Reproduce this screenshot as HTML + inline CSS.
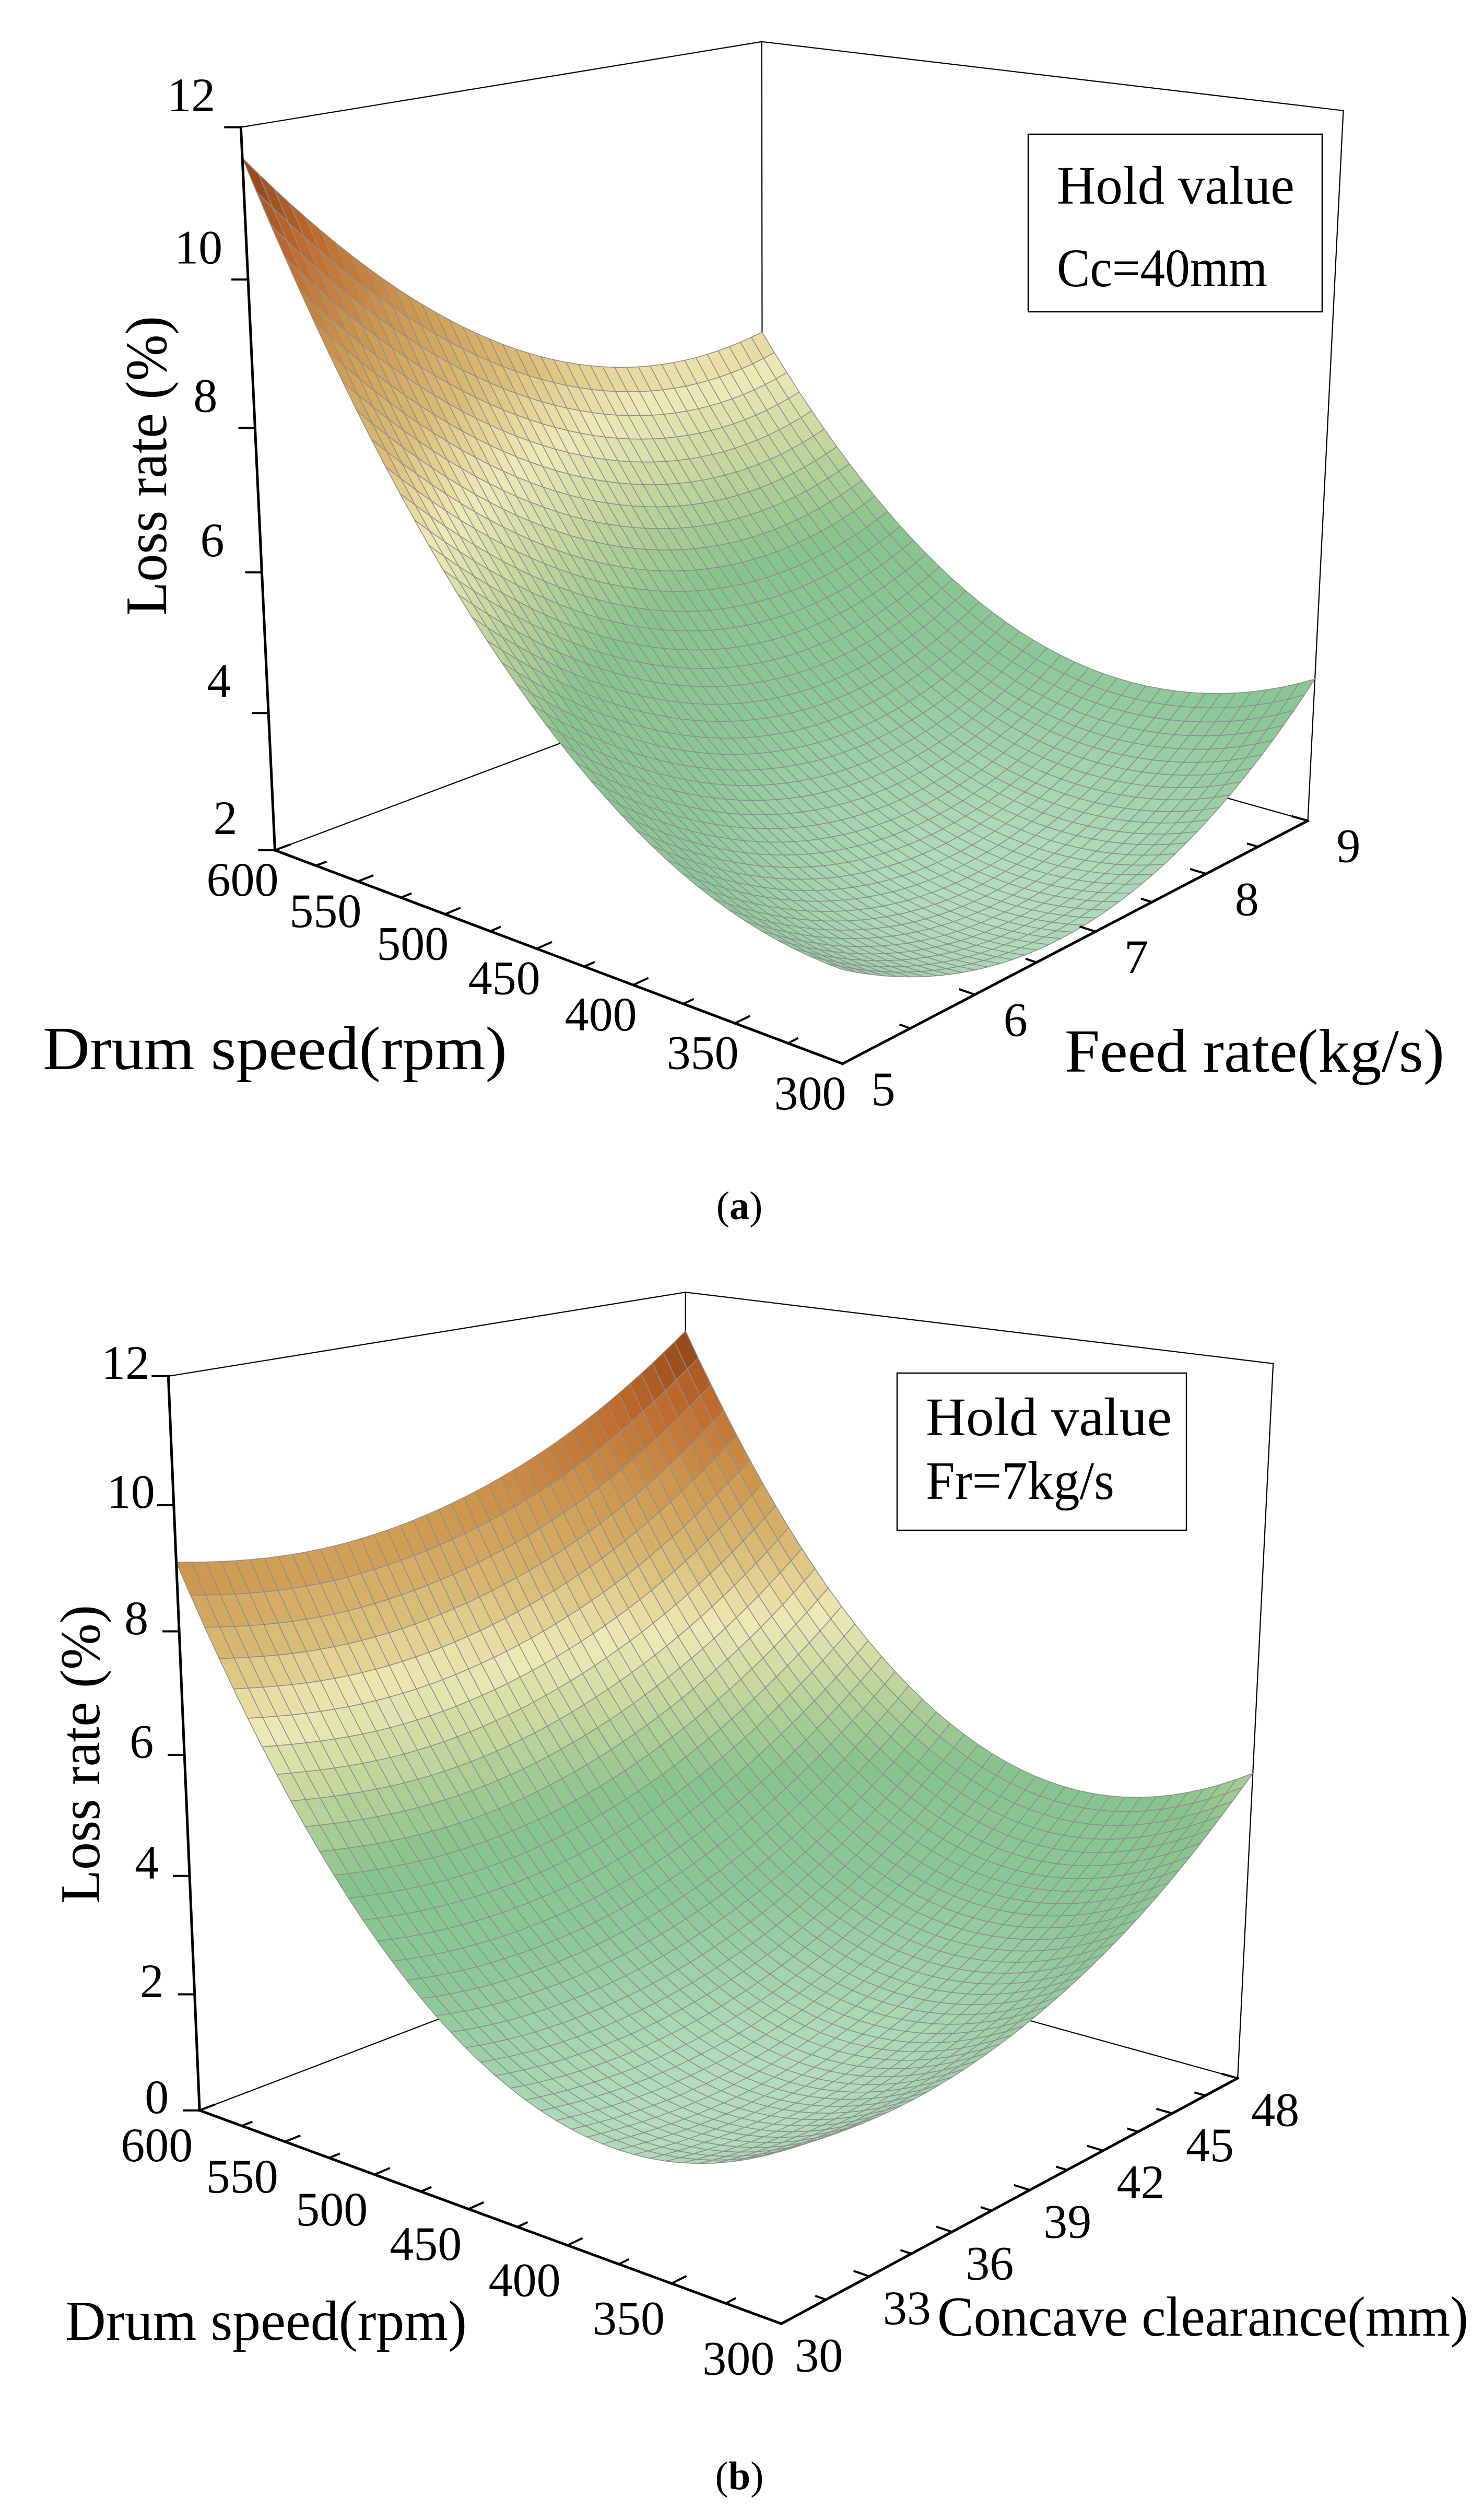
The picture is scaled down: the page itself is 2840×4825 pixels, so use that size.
<!DOCTYPE html>
<html>
<head>
<meta charset="utf-8">
<style>
  html,body{margin:0;padding:0;background:#fff;}
  svg{display:block;font-family:"Liberation Serif","DejaVu Serif",serif;}
  svg text{font-family:"Liberation Serif","DejaVu Serif",serif;fill:#000;}
</style>
</head>
<body>
<svg id="fig" xmlns="http://www.w3.org/2000/svg" width="2840" height="4825" viewBox="0 0 2840 4825" font-family="Liberation Serif, serif">
  <rect x="0" y="0" width="2840" height="4825" fill="#fff"/>
</svg>
<script>
// ---------- Chart (a) data ----------
const drumTicksA = [300, 350, 400, 450, 500, 550, 600];
const feedTicks = [5, 6, 7, 8, 9];
const zTicksA = [2, 4, 6, 8, 10, 12];
// loss rate grid: rows = drum speed (300..600), cols = feed rate (5..9)
const lossA = [
  [3.20, 2.33, 2.19, 2.78, 4.10],
  [3.43, 2.35, 2.00, 2.38, 3.50],
  [4.13, 2.84, 2.29, 2.46, 3.37],
  [5.30, 3.80, 3.04, 3.00, 3.70],
  [6.93, 5.23, 4.25, 4.01, 4.50],
  [9.03, 7.12, 5.94, 5.48, 5.77],
  [11.60, 9.49, 8.09, 7.43, 7.50]
];
// ---------- Chart (b) data ----------
const drumTicksB = [300, 350, 400, 450, 500, 550, 600];
const clearTicks = [30, 33, 36, 39, 42, 45, 48];
const zTicksB = [0, 2, 4, 6, 8, 10, 12];
// loss rate grid: rows = drum speed (300..600), cols = concave clearance (30..48)
const lossB = [
  [2.60, 2.43, 2.50, 2.83, 3.40, 4.23, 5.30],
  [1.88, 1.69, 1.75, 2.06, 2.62, 3.43, 4.50],
  [1.88, 1.68, 1.72, 2.02, 2.57, 3.36, 4.41],
  [2.60, 2.38, 2.42, 2.70, 3.23, 4.02, 5.05],
  [4.04, 3.81, 3.83, 4.10, 4.62, 5.39, 6.41],
  [6.21, 5.97, 5.97, 6.23, 6.73, 7.48, 8.50],
  [9.10, 8.84, 8.83, 9.08, 9.57, 10.31, 11.30]
];

const NS = "http://www.w3.org/2000/svg";
const svg = document.getElementById('fig');
const FONT = '"Liberation Serif", "DejaVu Serif", serif';

function mk(tag, attrs, parent) {
  const e = document.createElementNS(NS, tag);
  for (const k in attrs) e.setAttribute(k, attrs[k]);
  (parent || svg).appendChild(e);
  return e;
}

function solve(A, b) {
  const n = b.length;
  for (let i = 0; i < n; i++) {
    let p = i;
    for (let r = i + 1; r < n; r++) if (Math.abs(A[r][i]) > Math.abs(A[p][i])) p = r;
    [A[i], A[p]] = [A[p], A[i]]; [b[i], b[p]] = [b[p], b[i]];
    for (let r = i + 1; r < n; r++) {
      const f = A[r][i] / A[i][i];
      for (let c = i; c < n; c++) A[r][c] -= f * A[i][c];
      b[r] -= f * b[i];
    }
  }
  const x = new Array(n).fill(0);
  for (let i = n - 1; i >= 0; i--) {
    let s = b[i];
    for (let c = i + 1; c < n; c++) s -= A[i][c] * x[c];
    x[i] = s / A[i][i];
  }
  return x;
}

function makeProjector(pts) {
  const S = 1000;
  const rows = [], rhs = [];
  pts.forEach(([X, Y, Z, px, py]) => {
    const x = px / S, y = py / S;
    rows.push([X, Y, Z, 1, 0, 0, 0, 0, -x * X, -x * Y, -x * Z]); rhs.push(x);
    rows.push([0, 0, 0, 0, X, Y, Z, 1, -y * X, -y * Y, -y * Z]); rhs.push(y);
  });
  const N = 11, AtA = [], Atb = [];
  for (let i = 0; i < N; i++) {
    AtA.push(new Array(N).fill(0)); Atb.push(0);
    for (let r = 0; r < rows.length; r++) {
      Atb[i] += rows[r][i] * rhs[r];
      for (let j = 0; j < N; j++) AtA[i][j] += rows[r][i] * rows[r][j];
    }
  }
  const p = solve(AtA, Atb);
  return (X, Y, Z) => {
    const d = p[8] * X + p[9] * Y + p[10] * Z + 1;
    return [S * (p[0] * X + p[1] * Y + p[2] * Z + p[3]) / d, S * (p[4] * X + p[5] * Y + p[6] * Z + p[7]) / d, d];
  };
}

function lagr(nodes, x, i) {
  let v = 1;
  for (let k = 0; k < nodes.length; k++) if (k !== i) v *= (x - nodes[k]) / (nodes[i] - nodes[k]);
  return v;
}
function interp(grid, tn, sn, t, s) {
  let z = 0;
  for (let i = 0; i < tn.length; i++) {
    const li = lagr(tn, t, i);
    for (let j = 0; j < sn.length; j++) z += li * lagr(sn, s, j) * grid[i][j];
  }
  return z;
}

const stops = [
  [0.00, [178, 220, 188]], [0.15, [140, 200, 152]], [0.30, [135, 196, 140]],
  [0.42, [196, 214, 156]], [0.52, [238, 234, 184]], [0.62, [220, 190, 120]],
  [0.75, [204, 150, 76]], [0.88, [192, 104, 42]], [1.00, [138, 64, 24]]
];
function cmap(v) {
  v = Math.max(0, Math.min(1, v));
  for (let i = 1; i < stops.length; i++) {
    if (v <= stops[i][0]) {
      const a = stops[i - 1], b = stops[i], f = (v - a[0]) / (b[0] - a[0]);
      const c = a[1].map((x, k) => Math.round(x + (b[1][k] - x) * f));
      return `rgb(${c[0]},${c[1]},${c[2]})`;
    }
  }
  return 'rgb(138,64,24)';
}

function drawChart(cfg) {
  const g = mk('g', {});
  
  
  const P = makeProjector(cfg.calib);
  const tMin = cfg.tTicks[0], tMax = cfg.tTicks[cfg.tTicks.length - 1];
  const sMin = cfg.sTicks[0], sMax = cfg.sTicks[cfg.sTicks.length - 1];
  const zMin = cfg.zTicks[0], zMax = cfg.zTicks[cfg.zTicks.length - 1];
  const T = v => (v - tMin) / (tMax - tMin);
  const Sx = v => (v - sMin) / (sMax - sMin);
  const W = v => (v - zMin) / (zMax - zMin);
  const pt = (t, s, w) => P(t, s, w);
  const line = (a, b, sw, name) => {
    const l = mk('line', { x1: a[0].toFixed(1), y1: a[1].toFixed(1), x2: b[0].toFixed(1), y2: b[1].toFixed(1), stroke: '#000', 'stroke-width': sw, 'stroke-linecap': 'square' }, g);
    
    
    return l;
  };
  line(pt(1, 0, 0), pt(1, 1, 0), 2.2, 'floor-left-back-edge');
  line(pt(0, 1, 0), pt(1, 1, 0), 2.2, 'floor-right-back-edge');
  line(pt(1, 1, 0), pt(1, 1, 1), 2.2, 'back-vertical-edge');
  line(pt(1, 0, 1), pt(1, 1, 1), 2.2, 'top-left-edge');
  line(pt(0, 1, 1), pt(1, 1, 1), 2.2, 'top-right-edge');
  line(pt(0, 1, 0), pt(0, 1, 1), 2.2, 'right-vertical-edge');

  const zs = cfg.grid.flat();
  const gmin = Math.min(...zs), gmax = Math.max(...zs);
  const tn = cfg.tTicks.map(T), sn = cfg.sTicks.map(Sx);
  const N = 40;
  const Z = [];
  for (let i = 0; i <= N; i++) { Z.push([]); for (let j = 0; j <= N; j++) Z[i].push(interp(cfg.grid, tn, sn, i / N, j / N)); }
  const back = pt(1, 1, 0)[2], front = pt(0, 0, 0)[2];
  const sgn = back > front ? 1 : -1;
  const cells = [];
  for (let i = 0; i < N; i++) for (let j = 0; j < N; j++) {
    const corners = [[i, j], [i + 1, j], [i + 1, j + 1], [i, j + 1]].map(([a, b]) => pt(a / N, b / N, W(Z[a][b])));
    const zAvg = (Z[i][j] + Z[i + 1][j] + Z[i + 1][j + 1] + Z[i][j + 1]) / 4;
    const depth = sgn * corners.reduce((s, c) => s + c[2], 0) / 4;
    cells.push({ corners, zAvg, depth });
  }
  cells.sort((a, b) => b.depth - a.depth);
  const sg = mk('g', { stroke: '#8e8e8e', 'stroke-width': '1.6', 'stroke-linejoin': 'round' }, g);
  
  
  cells.forEach(c => {
    const poly = mk('polygon', { points: c.corners.map(p => p[0].toFixed(1) + ',' + p[1].toFixed(1)).join(' '), fill: cmap((c.zAvg - gmin) / (gmax - gmin)) }, sg);
    
    
  });

  line(pt(1, 0, 0), pt(0, 0, 0), 5, 'drum-speed-axis');
  line(pt(0, 0, 0), pt(0, 1, 0), 5, cfg.sAxisName);
  line(pt(1, 0, 0), pt(1, 0, 1), 5, 'loss-rate-axis');

  const unit = (a, b, L) => { const dx = b[0] - a[0], dy = b[1] - a[1], d = Math.hypot(dx, dy); return [a[0] + dx / d * L, a[1] + dy / d * L]; };
  const tStep = (cfg.tTicks[1] - cfg.tTicks[0]) / 2;
  for (let v = tMin; v <= tMax + 1e-9; v += tStep) {
    const a = pt(T(v), 0, 0), major = Math.abs(((v - tMin) / (2 * tStep)) % 1) < 1e-6;
    line(a, unit(a, pt(T(v), 0.1, 0), major ? 30 : 20), 4, 'drum-tick');
  }
  const sStep = (cfg.sTicks[1] - cfg.sTicks[0]) / 2;
  for (let v = sMin; v <= sMax + 1e-9; v += sStep) {
    const a = pt(0, Sx(v), 0), major = Math.abs(((v - sMin) / (2 * sStep)) % 1) < 1e-6;
    line(a, unit(a, pt(0.1, Sx(v), 0), major ? 30 : 20), 4, cfg.sTickName);
  }
  cfg.zTicks.forEach(v => {
    const a = pt(1, 0, W(v));
    line(a, [a[0] - 30, a[1]], 4, 'loss-rate-tick');
  });
  const fs = cfg.tickFont;
  const label = (txt, x, y, name) => {
    const t = mk('text', { x: x.toFixed(1), y: (y + fs * 0.34).toFixed(1), 'font-size': fs, 'text-anchor': 'middle', 'font-family': FONT }, g);
    t.textContent = txt;
    
    
    return t;
  };
  cfg.tTicks.forEach(v => { const a = pt(T(v), 0, 0); label(String(v), a[0] + cfg.tOff[0], a[1] + cfg.tOff[1], 'drum-tick-label'); });
  cfg.sTicks.forEach(v => { const a = pt(0, Sx(v), 0); label(String(v), a[0] + cfg.sOff[0], a[1] + cfg.sOff[1], cfg.sTickName + '-label'); });
  cfg.zTicks.forEach(v => { const a = pt(1, 0, W(v)); label(String(v), a[0] + cfg.zOff[0], a[1] + cfg.zOff[1], 'loss-rate-tick-label'); });

  const title = (txt, x, y, size, len, name, rot) => {
    const attrs = { x: x, y: y, 'font-size': size, textLength: len, lengthAdjust: 'spacingAndGlyphs', 'font-family': FONT };
    if (rot) attrs.transform = `rotate(-90 ${x} ${y})`;
    const t = mk('text', attrs, g);
    t.textContent = txt;
    
    
  };
  cfg.titles.forEach(tt => title(...tt));
  const lb = cfg.legend;
  const r = mk('rect', { x: lb.x, y: lb.y, width: lb.w, height: lb.h, fill: '#fff', stroke: '#000', 'stroke-width': 2.5 }, g);
  
  
  lb.lines.forEach(tt => title(...tt));
  const cap = mk('text', { x: 1416, y: cfg.capY, 'font-size': 76, 'text-anchor': 'middle', 'font-family': FONT }, g);
  
  
  cap.innerHTML = '(<tspan font-weight="bold">' + cfg.cap + '</tspan>)';
}

drawChart({
  name: 'chart-a-drum-feed',
  calib: [[1, 0, 0, 528, 1630], [0, 0, 0, 1610, 2037], [0, 1, 0, 2506, 1569], [1, 0, 1, 463, 241], [0, 1, 1, 2574, 214], [1, 1, 1, 1456, 80]],
  tTicks: drumTicksA, sTicks: feedTicks, zTicks: zTicksA, grid: lossA,
  sAxisName: 'feed-rate-axis', sTickName: 'feed-rate-tick',
  tickFont: 92, tOff: [-62, 56], sOff: [78, 48], zOff: [-95, -62],
  titles: [
    ['Drum speed(rpm)', 82, 2047, 118, 889, 'x-axis-title'],
    ['Feed rate(kg/s)', 2039, 2052, 118, 727, 'y-axis-title'],
    ['Loss rate (%)', 318, 1179, 112, 574, 'z-axis-title', true]
  ],
  legend: { x: 1969, y: 257, w: 563, h: 340, lines: [
    ['Hold value', 2024, 390, 104, 455, 'legend-title'],
    ['Cc=40mm', 2024, 548, 104, 403, 'legend-value']
  ] },
  capY: 2334, cap: 'a'
});

drawChart({
  name: 'chart-b-drum-clearance',
  calib: [[1, 0, 0, 381, 4039], [0, 0, 0, 1499, 4449], [0, 1, 0, 2369, 3981], [1, 0, 1, 321, 2637], [0, 1, 1, 2437, 2609], [1, 1, 1, 1315, 2474]],
  tTicks: drumTicksB, sTicks: clearTicks, zTicks: zTicksB, grid: lossB,
  sAxisName: 'concave-clearance-axis', sTickName: 'concave-clearance-tick',
  tickFont: 92, tOff: [-82, 66], sOff: [72, 60], zOff: [-82, -26],
  titles: [
    ['Drum speed(rpm)', 125, 4480, 108, 769, 'x-axis-title'],
    ['Concave clearance(mm)', 1795, 4472, 108, 1017, 'y-axis-title'],
    ['Loss rate (%)', 190, 3645, 108, 572, 'z-axis-title', true]
  ],
  legend: { x: 1718, y: 2629, w: 554, h: 301, lines: [
    ['Hold value', 1773, 2748, 104, 471, 'legend-title'],
    ['Fr=7kg/s', 1773, 2870, 104, 361, 'legend-value']
  ] },
  capY: 4766, cap: 'b'
});
</script>
</body>
</html>
